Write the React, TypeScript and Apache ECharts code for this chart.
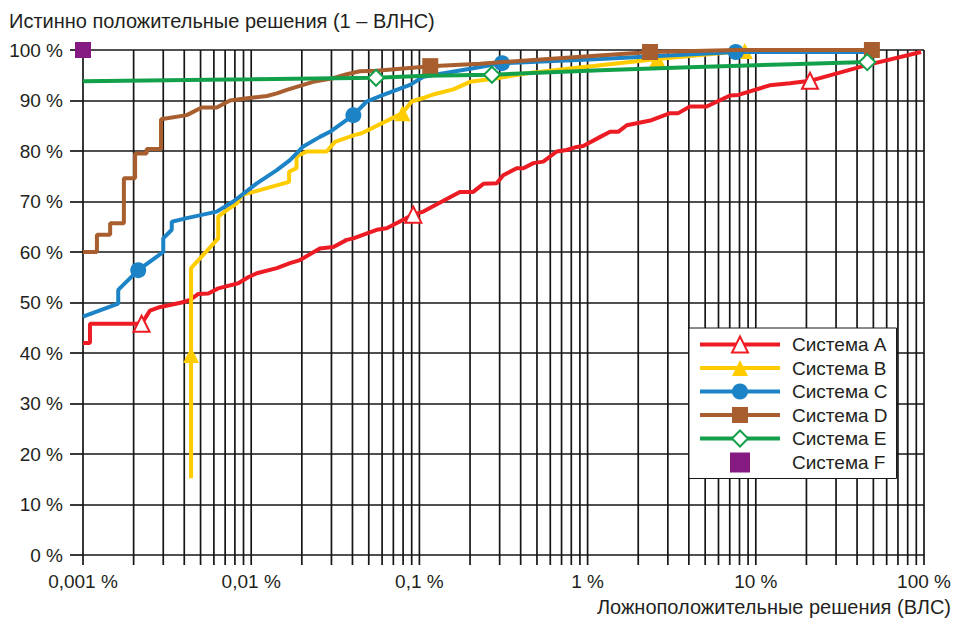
import React, { useEffect, useRef } from 'react';
import * as echarts from 'echarts';

const FONT = '"Liberation Sans", Arial, Helvetica, sans-serif';
const TEXT = '#231f20';
const GRID = '#161616';

const xTickLabels = ['0,001 %', '0,01 %', '0,1 %', '1 %', '10 %', '100 %'];
const xGridTicks = [
  0.001, 0.002, 0.003, 0.004, 0.005, 0.006, 0.007, 0.008, 0.009,
  0.01, 0.02, 0.03, 0.04, 0.05, 0.06, 0.07, 0.08, 0.09,
  0.1, 0.2, 0.3, 0.4, 0.5, 0.6, 0.7, 0.8, 0.9,
  1, 2, 3, 4, 5, 6, 7, 8, 9,
  10, 20, 30, 40, 50, 60, 70, 80, 90,
  100,
];

const names = ['Система A', 'Система B', 'Система C', 'Система D', 'Система E', 'Система F'];
const colors = ['#ed1c24', '#ffcc00', '#1c84c6', '#a85e2e', '#13a04a', '#861a83'];

const sysA: [number, number][] = [
  [0.001, 42], [0.0011, 42], [0.0011, 45.8], [0.00223, 45.8], [0.0025, 48.4], [0.0028, 49],
  [0.00386, 50], [0.00433, 50.5], [0.00485, 51.7], [0.00556, 51.8], [0.00637, 52.8], [0.00838, 53.8],
  [0.0096, 55], [0.0108, 55.8], [0.0142, 56.8], [0.017, 57.8], [0.0195, 58.4], [0.0256, 60.7],
  [0.0308, 61], [0.037, 62.4], [0.0405, 62.7], [0.0557, 64.4], [0.0639, 64.7], [0.092, 67.4],
  [0.1055, 68], [0.174, 71.9], [0.209, 71.9], [0.24, 73.5], [0.288, 73.6], [0.315, 75.2],
  [0.379, 76.6], [0.415, 76.6], [0.476, 77.6], [0.545, 77.9], [0.655, 79.9], [0.751, 80.2],
  [0.861, 80.8], [0.942, 81], [1.19, 82.8], [1.36, 83.8], [1.52, 83.8], [1.71, 85.1],
  [2.4, 86.1], [3.09, 87.5], [3.46, 87.5], [4.06, 88.8], [5.1, 88.8], [7.03, 91],
  [7.87, 91.1], [12.1, 93], [16, 93.4], [21, 93.9], [45.6, 97], [96, 99.6],
];
const sysAMarks = [3, 23, 51];

const sysB: [number, number][] = [
  [0.00439, 15.2], [0.00439, 39.6], [0.00439, 56.8], [0.00637, 62.7], [0.00637, 67], [0.00715, 68.3],
  [0.0082, 69.6], [0.00878, 71.3], [0.0103, 71.9], [0.0168, 73.9], [0.0168, 75.9], [0.0186, 76.6],
  [0.0186, 78.9], [0.0214, 79.9], [0.0281, 79.9], [0.0315, 81.8], [0.0361, 82.5], [0.0414, 83.2],
  [0.0454, 83.5], [0.0794, 87.5], [0.0899, 89.8], [0.108, 90.6], [0.124, 91.3], [0.159, 92.2],
  [0.2, 93.7], [0.288, 94.4], [0.435, 95.4], [1.19, 97], [2.6, 98.2], [8.6, 99.8],
];
const sysBMarks = [1, 19, 28, 29];

const sysC: [number, number][] = [
  [0.001, 47.2], [0.00162, 49.8], [0.00162, 52.5], [0.00213, 56.4], [0.003, 60], [0.003, 62.7],
  [0.00337, 64.4], [0.00337, 66], [0.00414, 66.7], [0.00624, 68], [0.00783, 70], [0.0108, 73.6],
  [0.0142, 76.2], [0.017, 78.2], [0.0204, 80.9], [0.0256, 82.8], [0.0294, 83.8], [0.0405, 87.1],
  [0.0486, 89.8], [0.061, 91.1], [0.088, 93.1], [0.1055, 94.7], [0.209, 96.4], [0.31, 97.4],
  [1.19, 98.2], [7.6, 99.6], [49, 99.6],
];
const sysCMarks = [3, 17, 23, 25];

const sysD: [number, number][] = [
  [0.001, 60], [0.00121, 60], [0.00121, 63.4], [0.00145, 63.4], [0.00145, 65.7], [0.00175, 65.7],
  [0.00175, 74.6], [0.00204, 74.6], [0.00204, 79.5], [0.00239, 79.5], [0.00239, 80.4], [0.00291, 80.4],
  [0.00291, 86.3], [0.00414, 87.1], [0.00508, 88.6], [0.00624, 88.6], [0.00748, 90], [0.00878, 90.3],
  [0.0103, 90.6], [0.0124, 90.9], [0.0142, 91.4], [0.0163, 92.1], [0.0195, 92.9], [0.0233, 93.7],
  [0.0306, 94.4], [0.037, 95.2], [0.0443, 95.8], [0.0557, 95.9], [0.116, 96.8], [0.229, 97.3],
  [2.35, 99.6], [7.7, 100], [49, 100],
];
const sysDMarks = [28, 30, 32];

const sysE: [number, number][] = [
  [0.001, 93.8], [0.01, 94.2], [0.0552, 94.5], [0.11, 94.9], [0.27, 95.1], [1.19, 96],
  [4, 96.6], [16, 97.2], [46, 97.6],
];
const sysEMarks = [2, 4, 8];

const sysF: [number, number][] = [[0.001, 100]];

function buildData(points: [number, number][], marks: number[], symbol: string) {
  return points.map((p, i) =>
    marks.includes(i) ? { value: p, symbol, symbolSize: 16 } : { value: p, symbol: 'none' }
  );
}

function lineSeries(idx: number, points: [number, number][], marks: number[], symbol: string, hollow: boolean) {
  const c = colors[idx];
  return {
    name: names[idx],
    type: 'line',
    data: buildData(points, marks, symbol),
    symbol,
    symbolSize: 16,
    showSymbol: true,
    clip: false,
    silent: true,
    z: 3 + idx,
    lineStyle: { color: c, width: 4 },
    itemStyle: hollow
      ? { color: c, borderColor: c, borderWidth: 2.5 }
      : { color: c, borderWidth: 0 },
  };
}

export default function App() {
  const ref = useRef<HTMLDivElement>(null);
  useEffect(() => {
    if (!ref.current) return;
    const chart = echarts.init(ref.current, undefined, { renderer: 'svg' });
    chart.setOption({
      animation: false,
      backgroundColor: '#ffffff',
      textStyle: { fontFamily: FONT },
      grid: { left: 83, right: 30, top: 50, bottom: 64, containLabel: false },
      xAxis: {
        type: 'log',
        logBase: 10,
        min: 0.001,
        max: 100,
        axisLine: { show: false },
        axisTick: { show: false },
        splitLine: { show: false },
        minorTick: { show: false },
        axisLabel: {
          formatter: (v: number) => xTickLabels[Math.round(Math.log10(v)) + 3] ?? '',
          fontSize: 19,
          color: TEXT,
          fontFamily: FONT,
          margin: 17,
          showMinLabel: true,
          showMaxLabel: true,
        },
      },
      yAxis: {
        type: 'value',
        min: 0,
        max: 100,
        interval: 10,
        axisLine: { show: false },
        axisTick: { show: true, length: 13, lineStyle: { color: GRID, width: 1.7 } },
        splitLine: { show: true, lineStyle: { color: GRID, width: 1.7 } },
        axisLabel: {
          formatter: '{value} %',
          fontSize: 19,
          color: TEXT,
          fontFamily: FONT,
          margin: 20,
        },
      },
      legend: {
        data: names.map((n, i) =>
          i === 5 ? { name: n, icon: 'path://M0,0h10v10h-10z' } : { name: n }
        ),
        orient: 'vertical',
        left: 689,
        top: 328,
        backgroundColor: '#ffffff',
        borderColor: GRID,
        borderWidth: 1,
        padding: [7, 9, 6, 9],
        itemWidth: 80,
        itemHeight: 20,
        itemGap: 4.5,
        symbolKeepAspect: true,
        selectedMode: false,
        lineStyle: { width: 4 },
        textStyle: { fontSize: 19, color: TEXT, fontFamily: FONT, padding: [0, 0, 0, 7] },
      },
      graphic: [
        {
          type: 'text',
          left: 9,
          top: 11,
          style: {
            text: 'Истинно положительные решения (1 – ВЛНС)',
            font: `20px ${FONT}`,
            fill: TEXT,
          },
        },
        {
          type: 'text',
          right: 3,
          top: 597,
          style: {
            text: 'Ложноположительные решения (ВЛС)',
            font: `20px ${FONT}`,
            fill: TEXT,
          },
        },
      ],
      series: [
        {
          type: 'custom',
          silent: true,
          clip: false,
          z: 1,
          data: xGridTicks.map((v) => [v, 0]),
          encode: { x: 0, y: 1 },
          renderItem: (_params: any, api: any) => {
            const v = api.value(0);
            const p0 = api.coord([v, 0]);
            const p1 = api.coord([v, 100]);
            return {
              type: 'line',
              shape: { x1: p0[0], y1: p0[1] + 10, x2: p1[0], y2: p1[1] },
              style: { stroke: GRID, lineWidth: 1.7 },
            };
          },
        },
        lineSeries(0, sysA, sysAMarks, 'emptyTriangle', true),
        lineSeries(1, sysB, sysBMarks, 'triangle', false),
        lineSeries(2, sysC, sysCMarks, 'circle', false),
        lineSeries(3, sysD, sysDMarks, 'rect', false),
        lineSeries(4, sysE, sysEMarks, 'emptyDiamond', true),
        {
          name: names[5],
          type: 'scatter',
          data: sysF,
          symbol: 'rect',
          symbolSize: 16,
          symbolKeepAspect: true,
          clip: false,
          silent: true,
          z: 10,
          itemStyle: { color: colors[5], opacity: 1 },
        },
      ],
    });
    return () => chart.dispose();
  }, []);
  return (
    <div
      ref={ref}
      style={{ position: 'fixed', left: 0, top: 0, width: 954, height: 619, background: '#fff' }}
    />
  );
}
